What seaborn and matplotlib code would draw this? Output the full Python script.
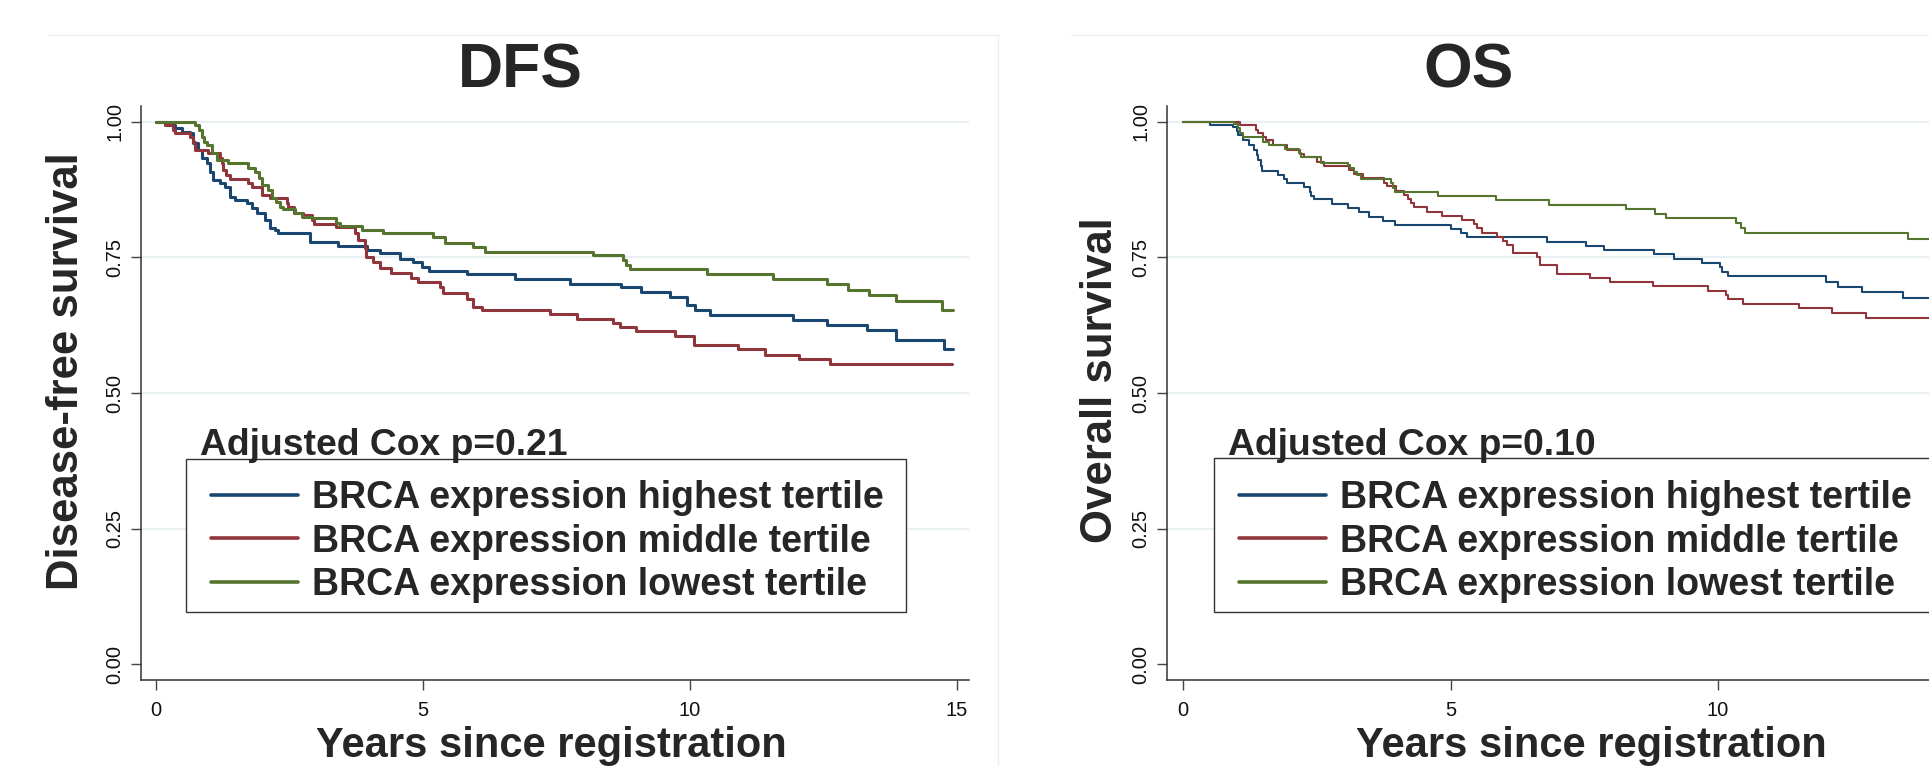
import numpy as np
import pandas as pd
import matplotlib
matplotlib.use("Agg")
import matplotlib.pyplot as plt
import seaborn as sns
from matplotlib.lines import Line2D
from matplotlib.patches import Rectangle

# ============================================================================
# DATA (Kaplan-Meier steps: years, survival)
# ============================================================================

groups = ["BRCA expression highest tertile",
          "BRCA expression middle tertile",
          "BRCA expression lowest tertile"]
colors = ["#1a476f", "#90353b", "#55752f"]

dfs_hi_t = [0, 0.20, 0.36, 0.48, 0.64, 0.70, 0.79, 0.86, 0.95, 1.01, 1.07, 1.20, 1.29, 1.39, 1.48,
            1.70, 1.79, 1.89, 2.04, 2.13, 2.23, 2.29, 2.88, 3.41, 3.95, 4.19, 4.56, 4.82, 4.98, 5.12,
            5.82, 6.72, 7.75, 8.70, 9.09, 9.63, 9.94, 10.09, 10.37, 11.92, 12.56, 13.31, 13.86, 14.76, 14.93]
dfs_hi_s = [1.0, .994, .988, .982, .979, .961, .948, .933, .924, .908, .893, .887, .880, .862, .856,
            .850, .841, .833, .819, .804, .800, .795, .779, .771, .764, .758, .748, .741, .733, .726,
            .720, .710, .702, .695, .687, .678, .662, .653, .644, .635, .625, .616, .597, .581, .581]

dfs_mid_t = [0, 0.17, 0.32, 0.36, 0.64, 0.70, 0.73, 0.98, 1.20, 1.23, 1.26, 1.32, 1.39, 1.73, 1.79,
             1.98, 2.13, 2.45, 2.48, 2.58, 2.76, 2.93, 2.96, 3.38, 3.73, 3.79, 3.91, 3.93, 4.07, 4.19,
             4.41, 4.77, 4.91, 5.32, 5.38, 5.82, 5.94, 6.10, 7.37, 7.89, 8.55, 8.68, 8.99, 9.72, 10.07,
             10.90, 11.40, 12.04, 12.63, 14.90]
dfs_mid_s = [1.0, .994, .986, .979, .973, .964, .948, .942, .933, .924, .911, .902, .895, .887, .880,
             .865, .859, .850, .843, .832, .828, .819, .812, .807, .795, .782, .767, .751, .742, .730,
             .721, .713, .705, .696, .685, .673, .659, .653, .645, .637, .630, .621, .614, .605, .589,
             .581, .571, .563, .553, .553]

dfs_lo_t = [0, 0.73, 0.81, 0.86, 0.90, 0.95, 1.04, 1.14, 1.34, 1.73, 1.85, 1.93, 1.98, 2.10, 2.18,
            2.25, 2.32, 2.38, 2.60, 2.73, 2.92, 3.38, 3.45, 3.85, 4.26, 5.19, 5.41, 5.94, 6.16, 8.19,
            8.75, 8.80, 8.88, 10.31, 11.56, 12.56, 12.96, 13.36, 13.86, 14.71, 14.93]
dfs_lo_s = [1.0, .994, .985, .973, .964, .958, .942, .930, .924, .915, .908, .896, .884, .875, .859,
            .853, .844, .839, .832, .825, .822, .813, .808, .801, .795, .787, .777, .770, .761, .755,
            .745, .736, .728, .720, .710, .701, .690, .680, .669, .654, .654]

os_hi_t = [0, 0.51, 0.93, 1.01, 1.03, 1.12, 1.24, 1.33, 1.38, 1.41, 1.45, 1.47, 1.78, 1.88, 1.94,
           2.27, 2.37, 2.40, 2.45, 2.78, 3.09, 3.29, 3.48, 3.73, 3.96, 5.01, 5.20, 5.30, 6.80, 7.53,
           7.86, 8.81, 9.18, 9.71, 10.03, 10.07, 10.18, 12.02, 12.24, 12.69, 13.45, 14.90]
os_hi_s = [1.0, .994, .990, .984, .976, .966, .958, .948, .939, .930, .919, .910, .902, .894, .887,
           .880, .871, .863, .857, .849, .842, .834, .825, .818, .810, .803, .795, .787, .779, .772,
           .764, .756, .747, .739, .732, .724, .715, .705, .696, .686, .676, .676]

os_mid_t = [0, 1.07, 1.36, 1.41, 1.49, 1.55, 1.68, 1.94, 2.19, 2.27, 2.50, 2.63, 3.11, 3.20, 3.36,
            3.76, 3.81, 3.98, 4.14, 4.20, 4.27, 4.32, 4.56, 4.84, 5.21, 5.43, 5.50, 5.58, 5.87, 5.99,
            6.05, 6.16, 6.61, 6.68, 6.99, 7.61, 7.98, 8.79, 9.81, 10.15, 10.19, 10.46, 11.51, 12.14,
            12.77, 14.90]
os_mid_s = [1.0, .994, .986, .979, .972, .966, .958, .948, .941, .935, .927, .919, .911, .904, .896,
            .888, .881, .873, .865, .857, .850, .843, .834, .827, .819, .812, .804, .796, .788, .781,
            .773, .759, .751, .737, .720, .713, .705, .697, .689, .681, .673, .665, .656, .648,
            .639, .639]

os_lo_t = [0, 0.96, 1.03, 1.07, 1.12, 1.49, 1.61, 1.91, 2.17, 2.20, 2.58, 3.09, 3.13, 3.19, 3.26,
           3.33, 3.89, 3.92, 3.96, 4.76, 5.85, 6.85, 8.28, 8.82, 9.03, 10.34, 10.43, 10.50, 13.56, 14.90]
os_lo_s = [1.0, .996, .988, .979, .972, .964, .958, .950, .942, .935, .925, .921, .915, .908, .902,
           .894, .887, .878, .871, .863, .856, .847, .839, .830, .822, .813, .804, .795, .785, .785]

y_ticks = [0, 0.25, 0.5, 0.75, 1.0]
y_ticklabels = ["0.00", "0.25", "0.50", "0.75", "1.00"]
dfs_x_ticks = [0, 5, 10, 15]
os_x_ticks = [0, 5, 10]   # 15 falls outside the cropped picture


def long_frame(curves):
    parts = []
    for name, (t, s) in zip(groups, curves):
        parts.append(pd.DataFrame({"time": t, "surv": s, "group": name}))
    return pd.concat(parts, ignore_index=True)


dfs_df = long_frame([(dfs_hi_t, dfs_hi_s), (dfs_mid_t, dfs_mid_s), (dfs_lo_t, dfs_lo_s)])
os_df = long_frame([(os_hi_t, os_hi_s), (os_mid_t, os_mid_s), (os_lo_t, os_lo_s)])

# ============================================================================
# LAYOUT (figure pixels)
# ============================================================================

W, H = 1929, 766
sns.set_style("ticks")
plt.rcParams['font.family'] = ['Liberation Sans', 'DejaVu Sans']

fig = plt.figure(figsize=(W / 100, H / 100), dpi=100)
fig.patch.set_facecolor("white")


def fx(px):
    return px / W


def fy(py):
    return 1 - py / H


panels = [
    dict(df=dfs_df, box=(141, 106, 969, 680), x0=156, ppy=53.4, lw=2.2, xt=dfs_x_ticks,
         title="DFS", title_x=520, ylabel="Disease-free survival", ylab_pos=(67, 371),
         xlab_x=551, cox="Adjusted Cox p=0.21", cox_x=200,
         frame=(186, 459, 906, 612), leg_x=211),
    dict(df=os_df, box=(1167, 106, 1997, 680), x0=1183, ppy=53.5, lw=1.5, xt=os_x_ticks,
         title="OS", title_x=1469, ylabel="Overall survival", ylab_pos=(1101, 380),
         xlab_x=1591, cox="Adjusted Cox p=0.10", cox_x=1228,
         frame=(1214, 458, 1940, 612), leg_x=1239),
]

# faint graph-region outlines
fig.add_artist(Line2D([fx(48), fx(998)], [fy(35), fy(35)], color="#eeeeee", lw=1))
fig.add_artist(Line2D([fx(998), fx(998)], [fy(35), fy(766)], color="#eeeeee", lw=1))
fig.add_artist(Line2D([fx(1071), fx(1929)], [fy(35), fy(35)], color="#eeeeee", lw=1))

for p in panels:
    x0, y0, x1, y1 = p["box"]
    ax = fig.add_axes([fx(x0), fy(y1), (x1 - x0) / W, (y1 - y0) / H])

    for y in y_ticks[1:]:
        ax.axhline(y, color="#e4edf1", lw=1.2, zorder=0)

    sns.lineplot(data=p["df"], x="time", y="surv", hue="group", hue_order=groups,
                 palette=colors, estimator=None, errorbar=None, drawstyle="steps-post",
                 lw=p["lw"], legend=False, ax=ax)

    ax.set_xlim((x0 - p["x0"]) / p["ppy"], (x1 - p["x0"]) / p["ppy"])
    ax.set_ylim(-0.0295, 1.0295)
    ax.set_xticks(p["xt"])
    ax.set_xticklabels([str(v) for v in p["xt"]])
    ax.set_yticks(y_ticks)
    ax.set_yticklabels(y_ticklabels)
    plt.setp(ax.get_yticklabels(), rotation=90, va="center")
    ax.tick_params(axis="both", labelsize=14.5, length=7, width=1, color="#444444",
                   labelcolor="#111111")
    ax.tick_params(axis="y", pad=5)
    ax.tick_params(axis="x", pad=8)
    ax.set_xlabel("")
    ax.set_ylabel("")
    for side in ["top", "right"]:
        ax.spines[side].set_visible(False)
    for side in ["left", "bottom"]:
        ax.spines[side].set_color("#333333")
        ax.spines[side].set_linewidth(1.1)

    fig.text(fx(p["title_x"]), fy(87), p["title"], ha="center", va="baseline",
             fontsize=45, fontweight="bold")
    fig.text(fx(p["ylab_pos"][0]), fy(p["ylab_pos"][1]), p["ylabel"], rotation=90,
             ha="center", va="center", fontsize=31.5, fontweight="bold")
    fig.text(fx(p["xlab_x"]), fy(757), "Years since registration", ha="center",
             va="baseline", fontsize=30, fontweight="bold")
    fig.text(fx(p["cox_x"]), fy(455), p["cox"], ha="left", va="baseline",
             fontsize=26.8, fontweight="bold")

    # legend box drawn as its own frame, legend rows placed inside it
    fx0, fy0, fx1, fy1 = p["frame"]
    ax.add_patch(Rectangle((fx(fx0), fy(fy1)), (fx1 - fx0) / W, (fy1 - fy0) / H,
                           transform=fig.transFigure, facecolor="white", edgecolor="#333333",
                           lw=1.0, clip_on=False, zorder=4))
    handles = [Line2D([], [], color=c, lw=2.6) for c in colors]
    leg = ax.legend(handles, groups, loc="upper left",
                    bbox_to_anchor=(fx(p["leg_x"]), fy(480)), bbox_transform=fig.transFigure,
                    frameon=False, borderaxespad=0, borderpad=0,
                    prop=dict(weight="bold", size=27.0),
                    handlelength=2.32, handletextpad=0.37, labelspacing=0.2)
    leg.set_zorder(5)

fig.savefig("out.png", dpi=100)
